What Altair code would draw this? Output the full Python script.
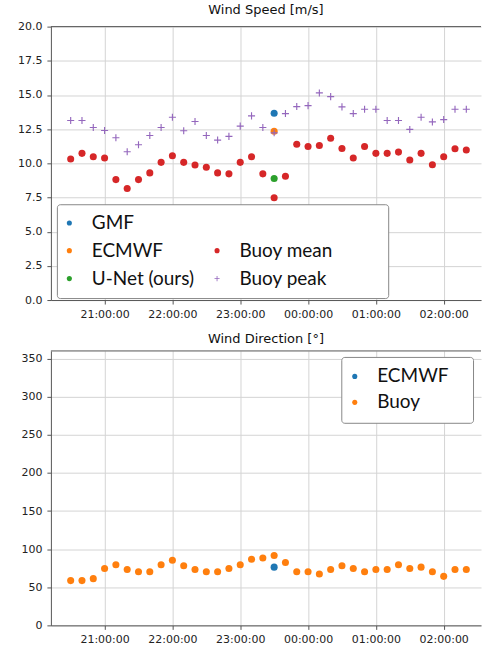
import altair as alt
import pandas as pd

# ---------------- data ----------------
clock = ["20:30", "20:40", "20:50", "21:00", "21:10", "21:20", "21:30", "21:40", "21:50",
         "22:00", "22:10", "22:20", "22:30", "22:40", "22:50", "23:00", "23:10", "23:20",
         "23:30", "23:40", "23:50", "00:00", "00:10", "00:20", "00:30", "00:40", "00:50",
         "01:00", "01:10", "01:20", "01:30", "01:40", "01:50", "02:00", "02:10", "02:20"]

buoy_mean = [10.31, 10.73, 10.48, 10.39, 8.81, 8.16, 8.81, 9.30, 10.07, 10.56, 10.07, 9.88,
             9.71, 9.30, 9.23, 10.07, 10.48, 9.23, 7.48, 9.06, 11.40, 11.23, 11.31, 11.84,
             11.09, 10.39, 11.23, 10.73, 10.73, 10.82, 10.24, 10.73, 9.90, 10.48, 11.07, 10.97]

buoy_peak = [13.13, 13.13, 12.62, 12.40, 11.87, 10.85, 11.36, 12.04, 12.62, 13.37, 12.38, 13.06,
             12.04, 11.70, 11.97, 12.72, 13.47, 12.62, 12.23, 13.64, 14.15, 14.22, 15.15, 14.88,
             14.13, 13.64, 13.96, 13.96, 13.13, 13.13, 12.48, 13.37, 13.03, 13.20, 13.96, 13.96]

buoy_dir = [58.7, 58.7, 61.3, 74.7, 79.4, 73.4, 70.3, 70.3, 79.4, 85.5, 78.1, 73.4,
            70.3, 70.3, 74.7, 79.4, 86.8, 88.5, 91.6, 82.5, 70.3, 70.3, 67.3, 73.4,
            78.1, 74.7, 70.3, 73.4, 73.4, 79.4, 74.7, 76.4, 70.3, 64.3, 73.4, 73.4]

model_clock = "23:30"
gmf_speed = 13.66
ecmwf_speed = 12.35
unet_speed = 8.89
ecmwf_dir = 76.4


def stamp(c):
    d = "2020-01-01" if int(c[:2]) >= 12 else "2020-01-02"
    return f"{d}T{c}:00Z"


stamps = [stamp(c) for c in clock]
model_t = stamp(model_clock)

FILL = "\u2800"          # blank glyph, used only to size the legend boxes
BLANK = FILL * 10        # empty legend slot (top of 2nd column)
speed_domain = ["GMF", "ECMWF", "U-Net (ours)", BLANK, "Buoy mean", "Buoy peak"]
speed_colors = ["#1f77b4", "#ff7f0e", "#2ca02c", "rgba(0,0,0,0)", "#d62728", "#9467bd"]
PLUS = ("M-1,-0.16H1V0.16H-1Z M-0.16,-1H0.16V1H-0.16Z")
speed_shapes = ["circle", "circle", "circle", "circle", "circle", PLUS]

speed_df = pd.DataFrame(
    {"t": [model_t] * 3 + stamps + stamps,
     "v": [gmf_speed, ecmwf_speed, unet_speed] + buoy_mean + buoy_peak,
     "s": ["GMF", "ECMWF", "U-Net (ours)"] + ["Buoy mean"] * len(stamps) + ["Buoy peak"] * len(stamps)}
)

dir_domain = ["ECMWF", "Buoy"]
dir_colors = ["#1f77b4", "#ff7f0e"]
dir_df = pd.DataFrame(
    {"t": stamps + [model_t],
     "v": buoy_dir + [ecmwf_dir],
     "s": ["Buoy"] * len(stamps) + ["ECMWF"]}
)

# ---------------- layout / style ----------------
W, H1, H2 = 431, 274, 275

x_domain = [alt.DateTime(year=2020, month=1, date=1, hours=20, minutes=12, seconds=30, utc=True),
            alt.DateTime(year=2020, month=1, date=2, hours=2, minutes=33, utc=True)]
x_ticks = ([alt.DateTime(year=2020, month=1, date=1, hours=h, utc=True) for h in (21, 22, 23)] +
           [alt.DateTime(year=2020, month=1, date=2, hours=h, utc=True) for h in (0, 1, 2)])

x_enc = alt.X("t:T", scale=alt.Scale(type="utc", domain=x_domain),
              axis=alt.Axis(values=x_ticks, labelExpr="utcFormat(datum.value, '%H:%M:%S')",
                            title=None))

legend_common = dict(title=None, labelFont="Lato", labelFontSize=19, labelColor="#111",
                     fillColor="white", strokeColor="#888", cornerRadius=3,
                     symbolSize=26, symbolOpacity=1, labelOffset=13, symbolOffset=-6,
                     symbolStrokeWidth=0)

speed_legend = alt.Legend(orient="none", legendX=6, legendY=178, columns=2, columnPadding=19,
                          rowPadding=8, padding=9, **legend_common)

speed_points = alt.Chart(speed_df).mark_point(filled=True, size=50, opacity=1).encode(
    x=x_enc,
    y=alt.Y("v:Q", scale=alt.Scale(domain=[0, 20], nice=False),
            axis=alt.Axis(values=[0, 2.5, 5, 7.5, 10, 12.5, 15, 17.5, 20], format=".1f", title=None)),
    color=alt.Color("s:N", scale=alt.Scale(domain=speed_domain, range=speed_colors),
                    legend=speed_legend),
    shape=alt.Shape("s:N", scale=alt.Scale(domain=speed_domain, range=speed_shapes),
                    legend=speed_legend),
)

dir_legend = alt.Legend(orient="none", legendX=291, legendY=6, rowPadding=6, padding=10,
                        labelExpr="datum.label + '" + FILL + "'", **legend_common)

dir_points = alt.Chart(dir_df).mark_point(filled=True, size=50, opacity=1, shape="circle").encode(
    x=x_enc,
    y=alt.Y("v:Q", scale=alt.Scale(domain=[0, 360], nice=False),
            axis=alt.Axis(values=[0, 50, 100, 150, 200, 250, 300, 350], title=None)),
    color=alt.Color("s:N", scale=alt.Scale(domain=dir_domain, range=dir_colors),
                    legend=dir_legend),
)


def top_border():
    return alt.Chart(pd.DataFrame({"k": [0]})).mark_rule(color="#555", strokeWidth=1).encode(
        x=alt.value(0), x2=alt.value(W), y=alt.value(0))


title_style = dict(font="DejaVu Sans", fontSize=13, fontWeight="normal", color="#111",
                   anchor="middle", offset=4)

top = alt.layer(speed_points, top_border()).properties(
    width=W, height=H1, title=alt.Title("Wind Speed [m/s]", **title_style))
bottom = alt.layer(dir_points, top_border()).properties(
    width=W, height=H2, title=alt.Title("Wind Direction [°]", **title_style))

chart = alt.vconcat(top, bottom, spacing=14).resolve_scale(
    color="independent", shape="independent"
).resolve_legend(color="independent", shape="independent").properties(
    padding={"left": 17, "top": 3, "right": 0, "bottom": 0}
).configure_view(stroke=None).configure_axis(
    labelFont="DejaVu Sans", labelFontSize=11, labelColor="#222",
    domainColor="#555", tickColor="#555", tickSize=4, labelPadding=5,
    gridColor="#d4d4d4", grid=True,
).configure_axisX(labelPadding=4)

chart.save("out.html", embed_options={"renderer": "svg", "actions": False})
